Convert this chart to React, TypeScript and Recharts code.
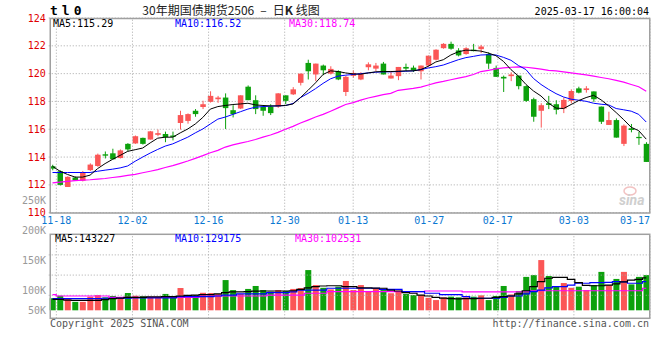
import React from "react";
import { ComposedChart, Bar, Line, XAxis, YAxis, CartesianGrid, ReferenceLine } from "recharts";

// trading days shown on the chart
const dates = [
  "11-15",
  "11-18", "11-19", "11-20", "11-21", "11-22",
  "11-25", "11-26", "11-27", "11-28", "11-29",
  "12-02", "12-03", "12-04", "12-05", "12-06",
  "12-09", "12-10", "12-11", "12-12", "12-13",
  "12-16", "12-17", "12-18", "12-19", "12-20",
  "12-23", "12-24", "12-25", "12-26", "12-27",
  "12-30", "12-31", "01-02", "01-03",
  "01-06", "01-07", "01-08", "01-09", "01-10",
  "01-13", "01-14", "01-15", "01-16", "01-17",
  "01-20", "01-21", "01-22", "01-23", "01-24",
  "01-27", "02-05", "02-06", "02-07",
  "02-10", "02-11", "02-12", "02-13", "02-14",
  "02-17", "02-18", "02-19", "02-20", "02-21",
  "02-24", "02-25", "02-26", "02-27", "02-28",
  "03-03", "03-04", "03-05", "03-06", "03-07",
  "03-10", "03-11", "03-12", "03-13", "03-14",
  "03-17",
];

const open = [
  113.34, 112.98, 111.85, 112.53, 112.3, 113.06, 113.36, 114.2, 114.27, 113.93,
  114.95, 114.98, 115.38, 115.26, 115.6, 115.66, 115.55, 116.45, 116.6, 117.33,
  117.6, 117.97, 118.16, 118.28, 117.37, 117.49, 119.06, 118.09, 117.61, 117.63,
  117.63, 118.44, 118.51, 119.34, 120.77, 119.94, 120.58, 120.0, 120.17, 118.68,
  119.84, 119.58, 120.46, 120.36, 120.72, 119.65, 119.82, 120.48, 120.43, 120.17,
  120.58, 121.0, 121.83, 122.14, 121.67, 121.41, 121.72, 121.76, 121.41, 120.41,
  119.77, 119.82, 119.86, 119.1, 118.16, 117.33, 117.87, 117.8, 117.49, 118.04,
  118.94, 118.82, 118.72, 117.63, 116.31, 116.66, 114.95, 116.07, 115.45, 114.95,
];
const high = [
  113.45, 113.05, 112.62, 112.6, 113.0, 113.55, 114.25, 114.4, 114.6, 114.55,
  115.0, 115.55, 115.4, 115.88, 115.98, 115.83, 115.83, 117.33, 117.14, 117.45,
  118.05, 118.73, 118.4, 118.58, 117.73, 118.44, 119.15, 118.44, 117.73, 117.8,
  118.6, 118.44, 119.03, 120.0, 121.0, 120.72, 120.65, 120.53, 120.24, 119.86,
  120.24, 120.1, 120.81, 120.77, 120.84, 120.2, 120.48, 120.72, 120.58, 120.58,
  121.3, 121.75, 122.19, 122.3, 121.83, 121.9, 122.14, 122.07, 121.53, 120.58,
  119.86, 120.1, 119.86, 119.15, 118.27, 117.87, 118.4, 118.09, 118.28, 118.87,
  119.06, 119.1, 118.72, 117.63, 117.26, 116.78, 116.35, 116.38, 115.83, 115.07,
];
const low = [
  113.05, 111.95, 111.85, 112.28, 112.25, 113.0, 113.3, 113.9, 113.84, 113.9,
  114.4, 114.95, 114.9, 115.26, 115.5, 115.07, 115.2, 115.98, 116.4, 116.9,
  117.45, 117.92, 117.9, 116.02, 116.85, 117.45, 118.09, 117.09, 116.97, 117.02,
  117.54, 117.8, 118.46, 119.15, 119.58, 119.46, 119.89, 119.94, 119.53, 118.39,
  119.7, 119.53, 120.24, 120.17, 119.94, 119.65, 119.53, 120.17, 120.12, 119.58,
  120.5, 120.95, 121.79, 121.72, 121.24, 121.36, 121.6, 121.48, 120.34, 119.77,
  118.68, 119.46, 118.87, 117.97, 116.54, 116.12, 117.45, 117.07, 117.16, 117.87,
  118.58, 118.63, 117.97, 116.38, 116.31, 115.4, 114.79, 115.78, 114.88, 113.65,
];
const close = [
  113.17, 112.0, 112.58, 112.32, 112.89, 113.46, 114.17, 114.1, 113.84, 114.48,
  114.55, 115.5, 114.95, 115.85, 115.72, 115.43, 115.45, 117.02, 117.09, 117.09,
  117.8, 118.4, 118.28, 117.52, 117.09, 118.44, 118.09, 117.45, 117.33, 117.16,
  118.58, 118.04, 118.87, 120.0, 120.17, 120.72, 120.24, 120.34, 119.58, 119.77,
  120.05, 120.0, 120.67, 120.58, 119.94, 119.86, 120.48, 120.36, 120.24, 120.58,
  121.29, 121.72, 122.14, 121.79, 121.31, 121.83, 121.62, 121.95, 120.72, 119.77,
  119.65, 119.94, 119.1, 118.04, 116.9, 117.73, 117.75, 117.4, 118.11, 118.75,
  118.63, 118.94, 118.16, 116.54, 116.66, 115.4, 116.26, 115.95, 115.36, 113.65,
];

const ma5 = [
  113.34, 112.98, 112.75, 112.56, 112.56, 112.7, 113.17, 113.53, 113.84, 114.12,
  114.41, 114.53, 114.65, 115.02, 115.36, 115.43, 115.43, 115.74, 116.02, 116.38,
  116.85, 117.45, 117.63, 117.71, 117.78, 117.82, 117.87, 117.75, 117.71, 117.68,
  117.68, 117.71, 117.82, 118.28, 118.8, 119.34, 119.94, 120.2, 120.15, 120.05,
  119.98, 119.96, 120.05, 120.13, 120.15, 120.15, 120.17, 120.2, 120.2, 120.29,
  120.53, 120.84, 121.0, 121.34, 121.57, 121.69, 121.67, 121.62, 121.48, 121.29,
  120.88, 120.29, 119.82, 119.22, 118.75, 118.39, 117.87, 117.52, 117.49, 117.78,
  118.06, 118.28, 118.44, 118.11, 117.68, 117.2, 116.69, 116.14, 115.9, 115.29,
];
const ma10 = [
  112.89, 112.89, 112.89, 112.89, 112.89, 112.89, 112.98, 113.06, 113.13, 113.22,
  113.36, 113.7, 114.0, 114.29, 114.55, 114.79, 114.95, 115.19, 115.43, 115.74,
  116.02, 116.38, 116.73, 116.88, 117.07, 117.26, 117.45, 117.59, 117.63, 117.66,
  117.68, 117.71, 117.85, 118.28, 118.58, 118.92, 119.3, 119.63, 119.82, 119.89,
  119.94, 120.0, 120.05, 120.1, 120.13, 120.13, 120.15, 120.17, 120.2, 120.29,
  120.41, 120.5, 120.62, 120.81, 121.0, 121.15, 121.24, 121.34, 121.36, 121.34,
  121.17, 120.96, 120.58, 120.29, 119.65, 119.22, 118.87, 118.56, 118.32, 118.16,
  118.09, 118.01, 117.87, 117.8, 117.75, 117.49, 117.4, 117.3, 117.07, 116.52,
];
const ma30 = [
  112.15, 112.2, 112.25, 112.3, 112.34, 112.37, 112.42, 112.46, 112.53, 112.6,
  112.68, 112.75, 112.87, 112.98, 113.1, 113.25, 113.39, 113.55, 113.72, 113.91,
  114.1, 114.31, 114.48, 114.72, 114.88, 115.0, 115.12, 115.26, 115.43, 115.59,
  115.78, 116.0, 116.21, 116.45, 116.66, 116.88, 117.07, 117.3, 117.54, 117.78,
  117.92, 118.09, 118.25, 118.37, 118.49, 118.58, 118.8, 118.87, 118.94, 119.03,
  119.18, 119.34, 119.44, 119.56, 119.68, 119.79, 119.94, 120.15, 120.24, 120.34,
  120.41, 120.46, 120.48, 120.46, 120.39, 120.32, 120.24, 120.2, 120.13, 120.05,
  119.98, 119.91, 119.82, 119.72, 119.63, 119.51, 119.39, 119.22, 119.06, 118.74,
];

// volume in thousands (K)
const vol = [
  53, 64, 51, 37, 37, 60, 67, 57, 63, 53,
  76, 64, 63, 57, 57, 72, 63, 98, 66, 67,
  77, 76, 72, 133, 89, 72, 94, 107, 89, 82,
  89, 85, 94, 98, 177, 111, 99, 92, 104, 129,
  89, 111, 85, 97, 89, 75, 86, 72, 67, 67,
  55, 45, 57, 60, 57, 57, 60, 66, 45, 63,
  107, 70, 85, 147, 155, 221, 151, 104, 120, 99,
  104, 89, 111, 169, 111, 138, 169, 114, 147, 155,
];
const volMa5 = [
  48, 48, 45, 44, 44, 44, 44, 47, 51, 54,
  57, 57, 57, 59, 59, 60, 60, 63, 66, 67,
  69, 69, 72, 78, 81, 81, 82, 84, 85, 85,
  85, 85, 86, 92, 99, 104, 107, 108, 108, 104,
  104, 99, 99, 98, 97, 89, 85, 78, 75, 67,
  63, 57, 54, 51, 50, 51, 51, 53, 53, 57,
  60, 63, 72, 86, 104, 126, 141, 145, 145, 136,
  122, 110, 108, 108, 111, 116, 125, 133, 136, 143,
];
const volMa10 = [
  51, 51, 51, 51, 51, 51, 51, 53, 53, 53,
  53, 55, 55, 55, 55, 55, 55, 60, 60, 60,
  60, 60, 63, 67, 67, 72, 72, 72, 72, 78,
  78, 78, 81, 89, 89, 89, 89, 97, 97, 97,
  97, 97, 97, 97, 92, 92, 92, 82, 82, 82,
  75, 75, 69, 69, 69, 60, 53, 53, 53, 53,
  57, 63, 63, 72, 82, 89, 99, 104, 104, 111,
  119, 119, 122, 122, 123, 126, 125, 119, 119, 126,
];
const volMa30 = [
  69, 63, 63, 63, 63, 63, 63, 63, 57, 57,
  57, 57, 57, 57, 57, 57, 57, 57, 57, 57,
  63, 63, 63, 63, 63, 63, 63, 63, 63, 67,
  67, 67, 67, 67, 75, 75, 75, 82, 82, 82,
  82, 82, 82, 82, 82, 82, 82, 82, 82, 82,
  85, 85, 85, 85, 85, 81, 81, 81, 81, 81,
  81, 81, 81, 81, 86, 86, 86, 86, 86, 86,
  86, 86, 86, 86, 86, 86, 86, 86, 86, 97,
];

const dateTicks = [1, 11, 21, 31, 40, 50, 59, 69, 79];
const priceTicks = [110, 112, 114, 116, 118, 120, 122, 124];
const volTickLabels = ["250K", "200K", "150K", "100K", "50K"];
const volGridRows = [1, 2, 3];

const priceLegend = [
  { text: "MA5:115.29", color: "#000000" },
  { text: "MA10:116.52", color: "#0000ff" },
  { text: "MA30:118.74", color: "#ff00ff" },
];
const volLegend = [
  { text: "MA5:143227", color: "#000000" },
  { text: "MA10:129175", color: "#0000ff" },
  { text: "MA30:102531", color: "#ff00ff" },
];

const rows = dates.map((date, i) => ({
  date,
  open: open[i],
  high: high[i],
  low: low[i],
  close: close[i],
  ma5: ma5[i],
  ma10: ma10[i],
  ma30: ma30[i],
  vol: vol[i],
  vma5: volMa5[i],
  vma10: volMa10[i],
  vma30: volMa30[i],
}));

const RED = "#fb5656";
const GREEN = "#0ca10c";
const GRID = "#a8a8a8";
const FRAME = "#a0a0a0";
const MONO = '"DejaVu Sans Mono", "Liberation Mono", monospace';

const Candle = (props: any) => {
  const { x, y, width, height, payload } = props;
  if (x == null || !payload) return null;
  const top = Math.min(y, y + height);
  const h = Math.abs(height);
  const span = payload.high - payload.low;
  const k = span > 0 ? h / span : 0;
  const color = payload.close >= payload.open ? RED : GREEN;
  const bodyTop = top + (payload.high - Math.max(payload.open, payload.close)) * k;
  const bodyH = Math.max(1, Math.abs(payload.close - payload.open) * k);
  const cx = x + width / 2;
  return (
    <g>
      <line x1={cx} x2={cx} y1={top} y2={top + h} stroke={color} strokeWidth={1} />
      <rect x={cx - 2.75} y={bodyTop} width={5.5} height={bodyH} fill={color} />
    </g>
  );
};

const VolBar = (props: any) => {
  const { x, y, width, height, payload } = props;
  if (x == null || !payload) return null;
  const color = payload.close >= payload.open ? RED : GREEN;
  return <rect x={x} y={Math.min(y, y + height)} width={width} height={Math.abs(height)} fill={color} />;
};

const DateTick = (props: any) => {
  const { x, y, payload } = props;
  const nearEdge = x > 630;
  return (
    <text x={x} y={y} dy={11} textAnchor={nearEdge ? "end" : "middle"} fill="#0a78d2" fontSize={10} fontFamily={MONO}>
      {dates[payload.value]}
    </text>
  );
};

export default function App() {
  return (
    <div style={{ position: "absolute", left: 0, top: 0, width: 660, height: 360, background: "#fff" }}>
      <div style={{ position: "absolute", left: 0, top: 0 }}>
        <ComposedChart width={660} height={230} data={rows} margin={{ top: 18, right: 10, bottom: 0, left: 0 }}>
          <CartesianGrid vertical={false} stroke={GRID} strokeDasharray="1 2" />
          <XAxis
            xAxisId="d"
            type="number"
            domain={[-0.179, 79]}
            allowDataOverflow
            ticks={dateTicks}
            interval={0}
            tick={<DateTick />}
            tickLine={false}
            axisLine={false}
            tickSize={0}
            tickMargin={0}
            height={17.3}
          />
          <XAxis dataKey="date" hide height={0} />
          <YAxis
            domain={[110, 124]}
            allowDataOverflow
            ticks={priceTicks}
            interval={0}
            width={48.74}
            tickLine={false}
            axisLine={false}
            tickSize={0}
            tickMargin={3}
            tick={{ fill: "#e00000", fontSize: 10, fontFamily: MONO }}
          />
          {dateTicks.map((t) => (
            <ReferenceLine key={t} xAxisId="d" x={t} stroke={GRID} strokeDasharray="1 2" />
          ))}
          <Bar dataKey={(d: any) => [d.low, d.high]} barSize={6} shape={<Candle />} isAnimationActive={false} />
          <Line dataKey="ma30" stroke="#ff00ff" strokeWidth={1.2} dot={false} isAnimationActive={false} />
          <Line dataKey="ma10" stroke="#0000ff" strokeWidth={1} dot={false} isAnimationActive={false} />
          <Line dataKey="ma5" stroke="#000000" strokeWidth={1} dot={false} isAnimationActive={false} />
        </ComposedChart>
      </div>

      <div style={{ position: "absolute", left: 0, top: 190 }}>
        <ComposedChart width={660} height={140} data={rows} margin={{ top: 44.3, right: 10, bottom: 11.7, left: 48.74 }}>
          <XAxis dataKey="date" hide height={0} />
          <XAxis xAxisId="d" type="number" domain={[-0.179, 79]} allowDataOverflow hide height={0} />
          <YAxis yAxisId="v" domain={[-35.2, 334.4]} allowDataOverflow hide />
          <YAxis yAxisId="g" domain={[-0.14, 4.02]} allowDataOverflow hide />
          {volGridRows.map((g) => (
            <ReferenceLine key={"h" + g} yAxisId="g" y={g} stroke={GRID} strokeDasharray="1 2" />
          ))}
          {dateTicks.map((t) => (
            <ReferenceLine key={"v" + t} xAxisId="d" yAxisId="g" x={t} stroke={GRID} strokeDasharray="1 2" />
          ))}
          <Bar yAxisId="v" dataKey="vol" barSize={6} shape={<VolBar />} isAnimationActive={false} />
          <Line yAxisId="v" type="step" dataKey="vma30" stroke="#ff00ff" strokeWidth={1.2} dot={false} isAnimationActive={false} />
          <Line yAxisId="v" type="step" dataKey="vma10" stroke="#0000ff" strokeWidth={1.2} dot={false} isAnimationActive={false} />
          <Line yAxisId="v" type="step" dataKey="vma5" stroke="#000000" strokeWidth={1.2} dot={false} isAnimationActive={false} />
        </ComposedChart>
      </div>

      <svg width={660} height={360} style={{ position: "absolute", left: 0, top: 0, pointerEvents: "none" }}>
        <rect x={50.25} y={18.5} width={599.5} height={194.5} fill="none" stroke={FRAME} strokeWidth={1.5} />
        <rect x={50.25} y={234.3} width={599.5} height={84} fill="none" stroke={FRAME} strokeWidth={1.5} />

        <text x={50} y={15} fontSize={13} fontWeight="bold" fontFamily={MONO} letterSpacing={4} fill="#000">
          tl0
        </text>
        <text x={231} y={15} textAnchor="middle" fontSize={12} fontFamily='"Noto Sans CJK SC", sans-serif' fill="#222">
          30年期国债期货2506{"\u2002–\u2002"}日<tspan fontWeight="bold">K</tspan> 线图
        </text>
        <text x={649} y={15} textAnchor="end" fontSize={10} fontFamily={MONO} fill="#000">
          2025-03-17 16:00:04
        </text>

        {priceLegend.map((l, i) => (
          <text key={l.text} x={[53, 175, 289][i]} y={27} fontSize={10} fontFamily={MONO} fill={l.color}>
            {l.text}
          </text>
        ))}
        {volLegend.map((l, i) => (
          <text key={l.text} x={[55, 175, 295][i]} y={242} fontSize={10} fontFamily={MONO} fill={l.color}>
            {l.text}
          </text>
        ))}

        {volTickLabels.map((t, i) => (
          <text key={t} x={46} y={Math.min(310.7, 200.7 + i * 29.9) + 3.5} textAnchor="end" fontSize={10} fontFamily={MONO} fill="#999">
            {t}
          </text>
        ))}

        <text x={50} y={327} fontSize={10} fontFamily={MONO} fill="#555">
          Copyright 2025 SINA.COM
        </text>
        <text x={649} y={327} textAnchor="end" fontSize={10} fontFamily={MONO} fill="#555">
          http://finance.sina.com.cn
        </text>

        <ellipse cx={630} cy={191} rx={6} ry={4} fill="none" stroke="#f2c2c2" strokeWidth={1.5} />
        <text x={619} y={205} fontSize={14} fontStyle="italic" fontWeight="bold" fontFamily="Roboto, sans-serif" fill="#cfcfcf">
          sina
        </text>
      </svg>
    </div>
  );
}
